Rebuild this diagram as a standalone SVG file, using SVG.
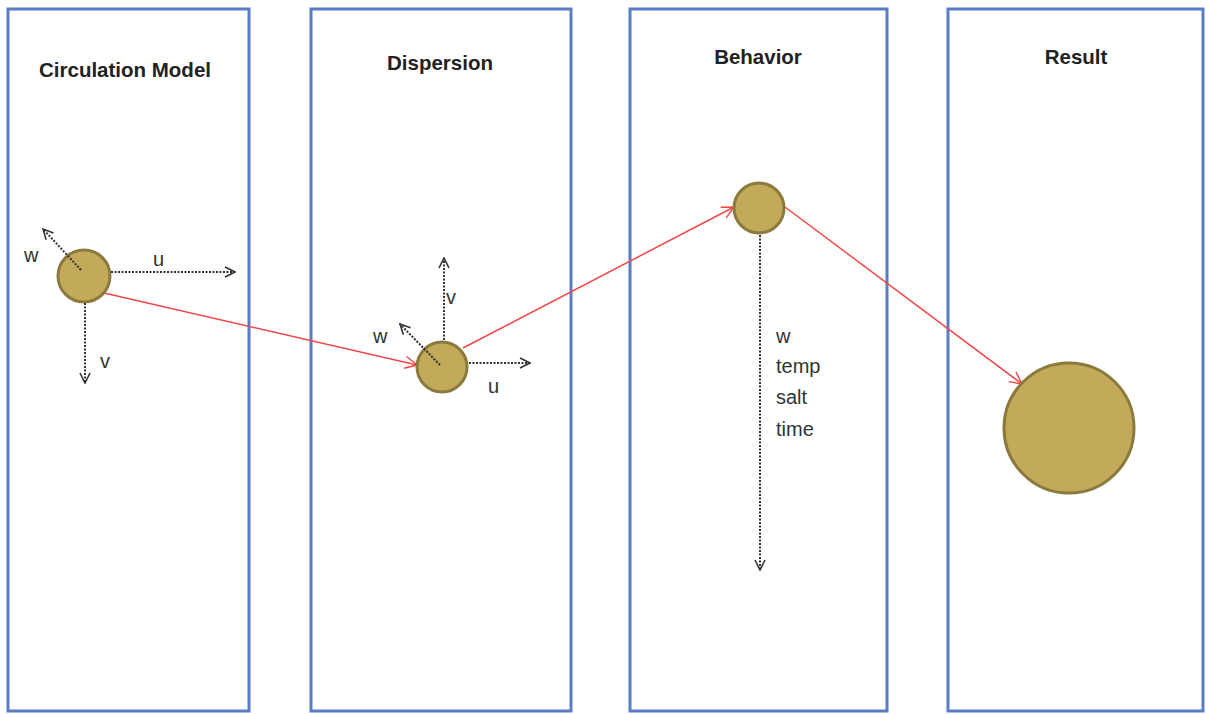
<svg xmlns="http://www.w3.org/2000/svg" width="1208" height="714" viewBox="0 0 1208 714">
<style>
.panel{fill:#ffffff;stroke:#5a7cc4;stroke-width:3}
.title{font-family:"Liberation Sans",Arial,sans-serif;font-weight:bold;font-size:20.5px;fill:#222;text-anchor:middle}
.lbl{font-family:"Liberation Sans",Arial,sans-serif;font-size:20px;fill:#333}
.ball{fill:#c3aa5a;stroke:#8a7a3c;stroke-width:3}
.dot{stroke:#333;stroke-width:2;stroke-dasharray:2 1.5;fill:none}
.red{stroke:#f04848;stroke-width:1.5;fill:none}
</style>
<defs>
<marker id="blk" viewBox="0 0 12 12" refX="11" refY="6" markerWidth="12" markerHeight="12" markerUnits="userSpaceOnUse" orient="auto">
<path d="M1,1 L11,6 L1,11" fill="none" stroke="#333" stroke-width="1.6"/>
</marker>
<marker id="rd" viewBox="0 0 14 14" refX="13" refY="7" markerWidth="14" markerHeight="14" markerUnits="userSpaceOnUse" orient="auto">
<path d="M1,1 L13,7 L1,13" fill="none" stroke="#f04848" stroke-width="1.5"/>
</marker>
</defs>
<rect width="1208" height="714" fill="#ffffff"/>
<g id="panel-circulation">
<rect class="panel" x="8" y="9" width="241" height="702"/>
<text class="title" x="125" y="77">Circulation Model</text>
</g>
<g id="panel-dispersion">
<rect class="panel" x="311" y="9" width="260" height="702"/>
<text class="title" x="440" y="70">Dispersion</text>
</g>
<g id="panel-behavior">
<rect class="panel" x="630" y="9" width="257" height="702"/>
<text class="title" x="758" y="64">Behavior</text>
</g>
<g id="panel-result">
<rect class="panel" x="948" y="9" width="255" height="702"/>
<text class="title" x="1076" y="64">Result</text>
</g>
<g id="connectors">
<line class="red" x1="104" y1="293" x2="417" y2="365" marker-end="url(#rd)"/>
<line class="red" x1="463" y1="348" x2="734" y2="207" marker-end="url(#rd)"/>
<line class="red" x1="785" y1="207" x2="1022" y2="384" marker-end="url(#rd)"/>
</g>
<g id="particle-1">
<circle class="ball" cx="84" cy="276" r="26"/>
<line class="dot" x1="111" y1="272" x2="235" y2="272" marker-end="url(#blk)"/>
<line class="dot" x1="85" y1="303" x2="85" y2="383" marker-end="url(#blk)"/>
<line class="dot" x1="81" y1="270" x2="43" y2="229" marker-end="url(#blk)"/>
<text class="lbl" x="153" y="266">u</text>
<text class="lbl" x="100" y="368">v</text>
<text class="lbl" x="24" y="262">w</text>
</g>
<g id="particle-2">
<circle class="ball" cx="442" cy="367" r="25"/>
<line class="dot" x1="444" y1="340" x2="444" y2="258" marker-end="url(#blk)"/>
<line class="dot" x1="469" y1="363" x2="530" y2="363" marker-end="url(#blk)"/>
<line class="dot" x1="440" y1="365" x2="400" y2="324" marker-end="url(#blk)"/>
<text class="lbl" x="446" y="304">v</text>
<text class="lbl" x="488" y="393">u</text>
<text class="lbl" x="373" y="343">w</text>
</g>
<g id="particle-3">
<circle class="ball" cx="759" cy="208" r="25"/>
<line class="dot" x1="760" y1="235" x2="760" y2="570" marker-end="url(#blk)"/>
<text class="lbl" x="776" y="343">w</text>
<text class="lbl" x="776" y="373">temp</text>
<text class="lbl" x="776" y="404">salt</text>
<text class="lbl" x="776" y="436">time</text>
</g>
<g id="particle-result">
<circle class="ball" cx="1069" cy="428" r="65"/>
</g>
</svg>
